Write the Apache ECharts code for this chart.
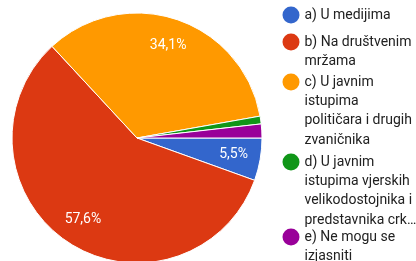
<!DOCTYPE html>
<html>
<head>
<meta charset="utf-8">
<script src="https://cdn.jsdelivr.net/npm/echarts@6/dist/echarts.min.js"></script>
<style>
html,body{margin:0;padding:0;background:#fff;}
#c{width:416px;height:261px;}
</style>
</head>
<body>
<div id="c"></div>
<script>
var categories = ['a) U medijima', 'b) Na društvenim mržama', 'c) U javnim istupima političara i drugih zvaničnika', 'd) U javnim istupima vjerskih velikodostojnika i predstavnika crk…', 'e) Ne mogu se izjasniti'];
var legendLines = [
  ['a) U medijima'],
  ['b) Na društvenim', 'mržama'],
  ['c) U javnim', 'istupima', 'političara i drugih', 'zvaničnika'],
  ['d) U javnim', 'istupima vjerskih', 'velikodostojnika i', 'predstavnika crk…'],
  ['e) Ne mogu se', 'izjasniti']
];
var values = [5.5, 57.6, 34.1, 1.0, 1.8];
var colors = ['#3366cc', '#dc3912', '#ff9900', '#109618', '#990099'];

var cx = 137, cy = 138, R = 125;
var L = 19.4;
var iconCenters = [15, 42, 82, 162, 237];

var data = categories.map(function (n, i) {
  return { name: n, value: values[i], itemStyle: { color: colors[i] } };
});
var labelData = categories.map(function (n, i) {
  return { name: n, value: values[i] };
});

var legends = categories.map(function (n, i) {
  var k = legendLines[i].length;
  var h = (2 * k - 1) * L;
  var lines = [];
  for (var j = 1; j < k; j++) lines.push(' ');
  lines = lines.concat(legendLines[i]);
  return {
    data: [n],
    orient: 'vertical',
    left: 282.5,
    top: iconCenters[i] - h / 2,
    padding: 0,
    itemWidth: 17,
    itemHeight: 17,
    icon: 'circle',
    selectedMode: false,
    itemStyle: { borderWidth: 0 },
    formatter: function () { return lines.join('\n'); },
    textStyle: {
      fontFamily: 'Roboto',
      fontSize: 14,
      color: '#212121',
      lineHeight: L
    }
  };
});

var chart = echarts.init(document.getElementById('c'), null, { renderer: 'canvas' });
chart.setOption({
  animation: false,
  legend: legends,
  series: [
    {
      type: 'pie',
      center: [cx, cy],
      radius: [0, R],
      startAngle: 0,
      clockwise: true,
      silent: true,
      label: { show: false },
      labelLine: { show: false },
      itemStyle: { borderColor: '#ffffff', borderWidth: 1 },
      data: data
    },
    {
      type: 'pie',
      center: [cx, cy],
      radius: [65, R],
      startAngle: 0,
      clockwise: true,
      silent: true,
      itemStyle: { color: 'rgba(0,0,0,0)' },
      label: {
        show: true,
        position: 'inside',
        color: '#ffffff',
        fontFamily: 'Roboto',
        fontSize: 14,
        formatter: function (p) {
          return p.value >= 5 ? p.value.toFixed(1).replace('.', ',') + '%' : '';
        }
      },
      labelLine: { show: false },
      data: labelData
    }
  ]
});
</script>
</body>
</html>
